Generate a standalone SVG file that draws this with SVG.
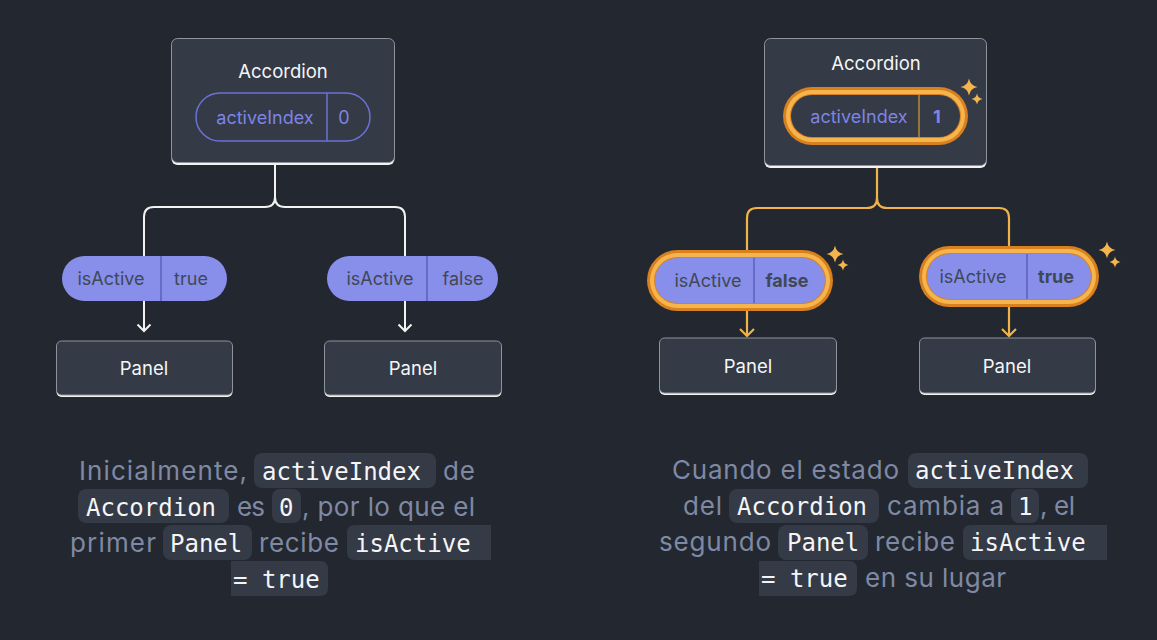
<svg xmlns="http://www.w3.org/2000/svg" width="1157" height="640" viewBox="0 0 1157 640">
<defs>
<style>
.bg{fill:#23272f}
.box{fill:#343a46;stroke:#8e939c;stroke-width:1}
.boxsh{fill:#f2f2f2}
.t{font-family:Inter,"Noto Sans","Liberation Sans",sans-serif;font-size:18.5px;fill:#f5f6f7;text-anchor:middle}
.pt{font-family:Inter,"Noto Sans","Liberation Sans",sans-serif;font-size:18px;fill:#404756;text-anchor:middle}
.pv{font-family:Inter,"Noto Sans","Liberation Sans",sans-serif;font-size:18px;fill:#7d84e3;text-anchor:middle}
.b{font-weight:bold}
.pill{fill:#878fea}
.div{stroke:#5a61b8;stroke-width:1.5}
.wl{fill:none;stroke:#f2f2f2;stroke-width:2}
.ol{fill:none;stroke:#f1b24a;stroke-width:2.2}
.od{fill:#d9801f}
.oli{fill:#f6b54c}
.spark{fill:#f6b54c}
.pr{font-family:Inter,"Noto Sans","Liberation Sans",sans-serif;font-size:26px;fill:#7f89a3}
.cd{font-family:"DejaVu Sans Mono","Liberation Mono",monospace;font-size:24px;fill:#f4f5f7}
.cb{fill:#343a46}
</style>
<path id="sb" d="M0,-8.5 Q1.3,-1.3 8.5,0 Q1.3,1.3 0,8.5 Q-1.3,1.3 -8.5,0 Q-1.3,-1.3 0,-8.5 Z"/>
<path id="ss" d="M0,-5.5 Q0.9,-0.9 5.5,0 Q0.9,0.9 0,5.5 Q-0.9,0.9 -5.5,0 Q-0.9,-0.9 0,-5.5 Z"/>
</defs>
<rect class="bg" x="0" y="0" width="1157" height="640"/>

<g id="connectors">
  <path class="wl" d="M275,164 V197 Q275,207 265,207 H154 Q144,207 144,217 V257"/>
  <path class="wl" d="M275,197 Q275,207 285,207 H395 Q405,207 405,217 V257"/>
  <path class="wl" d="M144,301 V331 M137.5,324.5 L144,331 L150.5,324.5"/>
  <path class="wl" d="M405,301 V331 M398.5,324.5 L405,331 L411.5,324.5"/>
  <path class="ol" d="M877,167 V198 Q877,208 867,208 H757 Q747,208 747,218 V251"/>
  <path class="ol" d="M877,198 Q877,208 887,208 H999 Q1009,208 1009,218 V247"/>
  <path class="ol" d="M747,311 V336 M740,329 L747,336 L754,329"/>
  <path class="ol" d="M1009,307 V336 M1002,329 L1009,336 L1016,329"/>
</g>

<g id="accordion-left">
  <rect class="boxsh" x="171.5" y="41" width="223" height="124" rx="6"/>
  <rect class="box" x="171.5" y="38.5" width="223" height="124" rx="6"/>
  <text class="t" x="283" y="78">Accordion</text>
  <rect x="196" y="93" width="174" height="48" rx="24" fill="none" stroke="#6a72d6" stroke-width="1.5"/>
  <line x1="327" y1="93" x2="327" y2="141" stroke="#6a72d6" stroke-width="1.5"/>
  <text class="pv" x="265" y="124">activeIndex</text>
  <text class="pv" x="344" y="124">0</text>
</g>

<g id="prop-left-1">
  <rect class="pill" x="62" y="256" width="165" height="45" rx="22.5"/>
  <line class="div" x1="161" y1="256" x2="161" y2="301"/>
  <text class="pt" x="111" y="285">isActive</text>
  <text class="pt" x="191" y="285">true</text>
</g>
<g id="prop-left-2">
  <rect class="pill" x="327" y="256" width="171" height="45" rx="22.5"/>
  <line class="div" x1="427" y1="256" x2="427" y2="301"/>
  <text class="pt" x="380" y="285">isActive</text>
  <text class="pt" x="463" y="285">false</text>
</g>

<g id="panel-left-1">
  <rect class="boxsh" x="56.5" y="343" width="176" height="54" rx="5"/>
  <rect class="box" x="56.5" y="341" width="176" height="54" rx="5"/>
  <text class="t" x="144" y="375">Panel</text>
</g>
<g id="panel-left-2">
  <rect class="boxsh" x="324.5" y="343" width="177" height="54" rx="5"/>
  <rect class="box" x="324.5" y="341" width="177" height="54" rx="5"/>
  <text class="t" x="413" y="375">Panel</text>
</g>

<g id="accordion-right">
  <rect class="boxsh" x="764.5" y="41" width="222" height="127" rx="6"/>
  <rect class="box" x="764.5" y="38.5" width="222" height="127" rx="6"/>
  <text class="t" x="876" y="70">Accordion</text>
  <rect class="od" x="783" y="87" width="185" height="58" rx="29"/>
  <rect class="oli" x="786" y="90" width="179" height="52" rx="26"/>
  <rect class="od" x="790" y="94" width="171" height="44" rx="22"/>
  <rect fill="#343a46" x="791" y="95" width="169" height="42" rx="21"/>
  <line x1="919" y1="95" x2="919" y2="137" stroke="#b88a3a" stroke-width="1.5"/>
  <text class="pv" x="859" y="123">activeIndex</text>
  <text class="pv b" x="937" y="123" fill="#8a90ec">1</text>
  <use class="spark" href="#sb" x="969" y="87"/>
  <use class="spark" href="#ss" x="977" y="99"/>
</g>

<g id="prop-right-1">
  <rect class="od" x="647" y="250" width="186" height="61" rx="30.5"/>
  <rect class="oli" x="650" y="253" width="180" height="55" rx="27.5"/>
  <rect class="od" x="654" y="257" width="172" height="47" rx="23.5"/>
  <rect class="pill" x="655" y="258" width="170" height="45" rx="22.5"/>
  <line class="div" x1="754" y1="258" x2="754" y2="303"/>
  <text class="pt" x="708" y="287">isActive</text>
  <text class="pt b" x="787" y="287">false</text>
  <use class="spark" href="#sb" x="835" y="254"/>
  <use class="spark" href="#ss" x="843" y="265"/>
</g>
<g id="prop-right-2">
  <rect class="od" x="919" y="246" width="180" height="61" rx="30.5"/>
  <rect class="oli" x="922" y="249" width="174" height="55" rx="27.5"/>
  <rect class="od" x="926" y="253" width="166" height="47" rx="23.5"/>
  <rect class="pill" x="927" y="254" width="164" height="45" rx="22.5"/>
  <line class="div" x1="1027" y1="254" x2="1027" y2="299"/>
  <text class="pt" x="973" y="283">isActive</text>
  <text class="pt b" x="1056" y="283">true</text>
  <use class="spark" href="#sb" x="1107" y="250"/>
  <use class="spark" href="#ss" x="1115" y="262"/>
</g>

<g id="panel-right-1">
  <rect class="boxsh" x="659.5" y="340" width="177" height="55" rx="5"/>
  <rect class="box" x="659.5" y="338" width="177" height="55" rx="5"/>
  <text class="t" x="748" y="373">Panel</text>
</g>
<g id="panel-right-2">
  <rect class="boxsh" x="919.5" y="340" width="176" height="55" rx="5"/>
  <rect class="box" x="919.5" y="338" width="176" height="55" rx="5"/>
  <text class="t" x="1007" y="373">Panel</text>
</g>

<g id="caption-left">
  <rect class="cb" x="254" y="453" width="182" height="35" rx="8"/>
  <rect class="cb" x="78" y="489" width="151" height="34" rx="8"/>
  <rect class="cb" x="272" y="489" width="29" height="34" rx="8"/>
  <rect class="cb" x="163" y="525" width="89" height="35" rx="8"/>
  <path class="cb" d="M355,525 H491 V560 H355 Q347,560 347,552 V533 Q347,525 355,525 Z"/>
  <path class="cb" d="M231,561 H320 Q328,561 328,569 V588 Q328,596 320,596 H231 Z"/>
  <text class="pr" x="79" y="480" textLength="168">Inicialmente,</text>
  <text class="cd" x="262" y="480">activeIndex</text>
  <text class="pr" x="443" y="480" textLength="32">de</text>
  <text class="cd" x="86" y="516">Accordion</text>
  <text class="pr" x="237" y="516" textLength="28">es</text>
  <text class="cd" x="279" y="516">0</text>
  <text class="pr" x="302" y="516" textLength="173">, por lo que el</text>
  <text class="pr" x="70" y="552" textLength="86">primer</text>
  <text class="cd" x="170" y="552">Panel</text>
  <text class="pr" x="259" y="552" textLength="80">recibe</text>
  <text class="cd" x="355" y="552">isActive</text>
  <text class="cd" x="233" y="588">= true</text>
</g>

<g id="caption-right">
  <rect class="cb" x="908" y="453" width="180" height="35" rx="8"/>
  <rect class="cb" x="729" y="489" width="150" height="34" rx="8"/>
  <rect class="cb" x="1011" y="489" width="28" height="34" rx="8"/>
  <rect class="cb" x="778" y="525" width="90" height="35" rx="8"/>
  <path class="cb" d="M971,525 H1107 V560 H971 Q963,560 963,552 V533 Q963,525 971,525 Z"/>
  <path class="cb" d="M759,561 H849 Q857,561 857,569 V588 Q857,596 849,596 H759 Z"/>
  <text class="pr" x="672" y="479" textLength="227">Cuando el estado</text>
  <text class="cd" x="915" y="479">activeIndex</text>
  <text class="pr" x="683" y="515" textLength="39">del</text>
  <text class="cd" x="737" y="515">Accordion</text>
  <text class="pr" x="887" y="515" textLength="117">cambia a</text>
  <text class="cd" x="1018" y="515">1</text>
  <text class="pr" x="1040" y="515" textLength="35">, el</text>
  <text class="pr" x="659" y="551" textLength="112">segundo</text>
  <text class="cd" x="787" y="551">Panel</text>
  <text class="pr" x="875" y="551" textLength="80">recibe</text>
  <text class="cd" x="970" y="551">isActive</text>
  <text class="cd" x="761" y="587">= true</text>
  <text class="pr" x="865" y="587" textLength="141">en su lugar</text>
</g>
</svg>
